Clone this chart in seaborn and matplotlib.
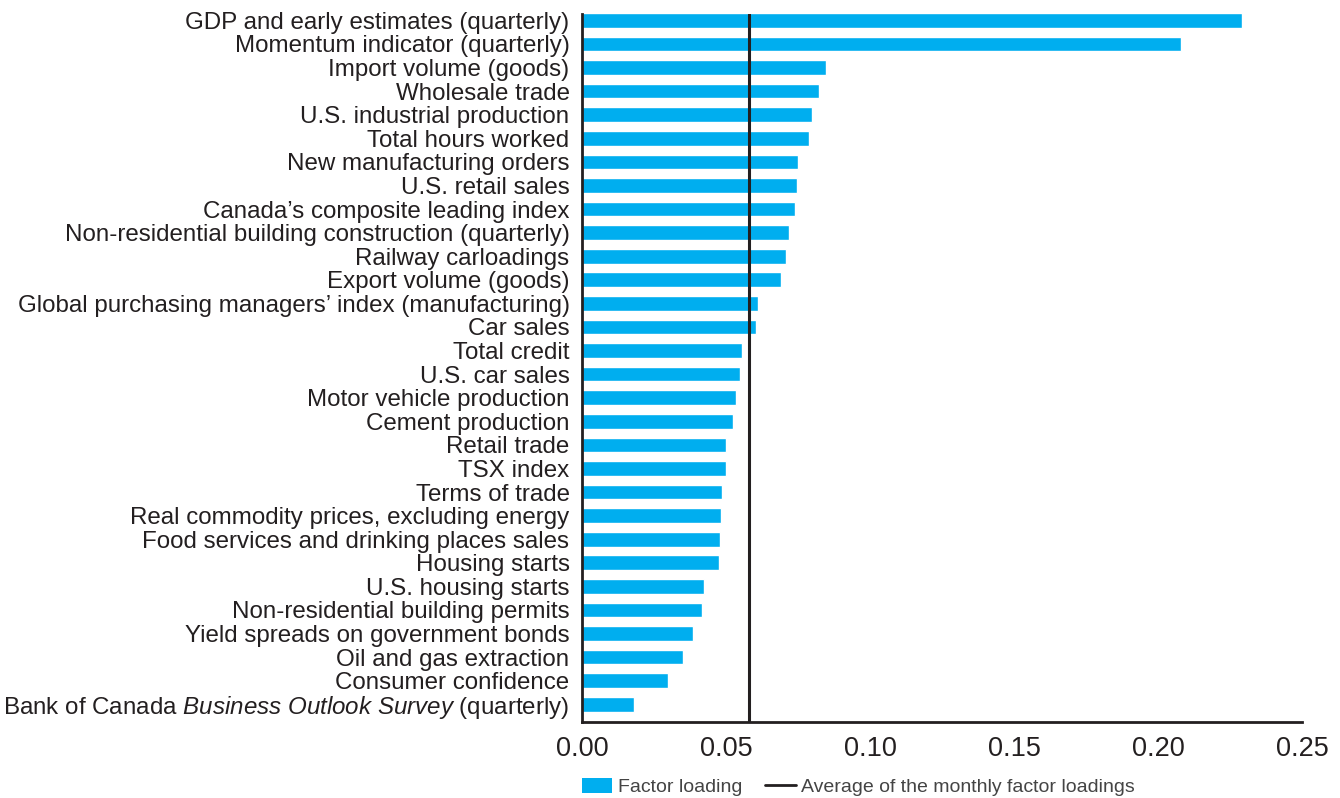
import matplotlib
matplotlib.use("Agg")
import matplotlib.pyplot as plt
import seaborn as sns
from matplotlib.patches import Patch
from matplotlib.lines import Line2D

indicators = [
    "GDP and early estimates (quarterly)",
    "Momentum indicator (quarterly)",
    "Import volume (goods)",
    "Wholesale trade",
    "U.S. industrial production",
    "Total hours worked",
    "New manufacturing orders",
    "U.S. retail sales",
    "Canada\u2019s composite leading index",
    "Non-residential building construction (quarterly)",
    "Railway carloadings",
    "Export volume (goods)",
    "Global purchasing managers\u2019 index (manufacturing)",
    "Car sales",
    "Total credit",
    "U.S. car sales",
    "Motor vehicle production",
    "Cement production",
    "Retail trade",
    "TSX index",
    "Terms of trade",
    "Real commodity prices, excluding energy",
    "Food services and drinking places sales",
    "Housing starts",
    "U.S. housing starts",
    "Non-residential building permits",
    "Yield spreads on government bonds",
    "Oil and gas extraction",
    "Consumer confidence",
    r"Bank of Canada $\mathit{Business\ Outlook\ Survey}$ (quarterly)",
]
loadings = [
    0.2292, 0.2081, 0.0847, 0.0823, 0.0799, 0.0788, 0.0750, 0.0747,
    0.0740, 0.0719, 0.0708, 0.0691, 0.0611, 0.0604, 0.0556, 0.0549,
    0.0535, 0.0524, 0.0500, 0.0500, 0.0487, 0.0484, 0.0480, 0.0476,
    0.0424, 0.0417, 0.0386, 0.0351, 0.0300, 0.0181,
]
monthly_average = 0.058
x_ticks = [0.00, 0.05, 0.10, 0.15, 0.20, 0.25]

blue = "#00AEEF"
ink = "#231F20"

sns.set_style("white")
plt.rcParams["font.family"] = ["Liberation Sans", "DejaVu Sans"]
plt.rcParams["mathtext.fontset"] = "custom"
plt.rcParams["mathtext.rm"] = "Liberation Sans"
plt.rcParams["mathtext.it"] = "Liberation Sans:italic"

fig = plt.figure(figsize=(13.4, 7.98), dpi=100)
ax = fig.add_axes([582 / 1340, 1 - 722 / 798, (1302 - 582) / 1340, (722 - 14) / 798])

sns.barplot(x=loadings, y=indicators, orient="h", color=blue, saturation=1,
            width=0.62, ax=ax)
ax.axvline(monthly_average, color=ink, lw=2.2, zorder=3)

ax.set_xlim(0, 0.25)
ax.set_ylim(29.75, -0.27)
ax.set_xticks(x_ticks)
ax.set_xticklabels([f"{t:.2f}" for t in x_ticks])
ax.tick_params(axis="x", direction="in", length=12, width=1.6, colors=ink,
               labelsize=19.5, pad=10, labelcolor=ink)
ax.tick_params(axis="y", length=0, pad=9, labelsize=17.4, labelcolor=ink)
ax.set_xlabel("")
ax.set_ylabel("")

for side in ["top", "right"]:
    ax.spines[side].set_visible(False)
for side in ["left", "bottom"]:
    ax.spines[side].set_linewidth(2)
    ax.spines[side].set_color(ink)

handles = [Patch(facecolor=blue, edgecolor="none", label="Factor loading"),
           Line2D([0], [0], color=ink, lw=2, label="Average of the monthly factor loadings")]
leg = fig.legend(handles=handles, loc="center left",
                 bbox_to_anchor=(574 / 1340, 1 - 787 / 798), ncol=2, frameon=False,
                 fontsize=14, handlelength=1.55, handleheight=0.85,
                 handletextpad=0.3, columnspacing=1.2, borderaxespad=0)
for t in leg.get_texts():
    t.set_color("#444444")

fig.savefig("out.png", dpi=100)
